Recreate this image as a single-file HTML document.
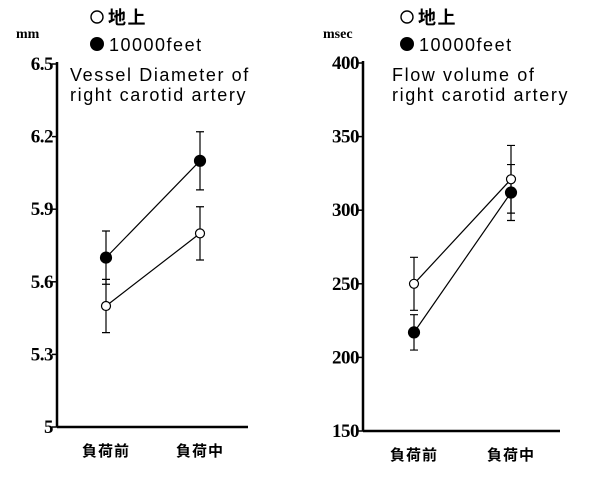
<!DOCTYPE html>
<html><head><meta charset="utf-8"><style>
body{margin:0;background:#fff;}
svg text{fill:#000}
.tk{font-family:"Liberation Serif",serif;font-weight:bold;font-size:19px;text-anchor:end;letter-spacing:-0.5px}
.ti{font-family:"Liberation Sans",sans-serif;font-size:18px;letter-spacing:1.6px}
.lg{font-family:"Liberation Sans","Noto Sans CJK JP",sans-serif;font-size:18px;letter-spacing:1.5px}
.cat{font-family:"Liberation Sans","Noto Sans CJK JP",sans-serif;font-weight:bold;font-size:15px;letter-spacing:1px;text-anchor:middle}
</style></head><body>
<svg id="s" width="600" height="475"></svg>
<script>
const categories=["負荷前","負荷中"];
const leftGround=[5.5,5.8];
const leftGroundErr=[0.11,0.11];
const leftHigh=[5.7,6.1];
const leftHighErr=[0.11,0.12];
const leftTicks=["6.5","6.2","5.9","5.6","5.3","5"];
const leftTickVals=[6.5,6.2,5.9,5.6,5.3,5];
const rightGround=[250,321];
const rightGroundErr=[18,23];
const rightHigh=[217,312];
const rightHighErr=[12,19];
const rightTicks=["400","350","300","250","200","150"];
const rightTickVals=[400,350,300,250,200,150];
const NS="http://www.w3.org/2000/svg";
const svg=document.getElementById('s');
function mk(t,a,txt){const e=document.createElementNS(NS,t);for(const k in a)e.setAttribute(k,a[k]);if(txt!==undefined)e.textContent=txt;svg.appendChild(e);return e;}
function panel(p){
  const y=v=>p.y0+(p.max-v)/(p.max-p.min)*(p.y1-p.y0);
  const x=i=>p.xs[i];
  let e=mk('line',{x1:p.ax,y1:p.y0-2,x2:p.ax,y2:p.y1,stroke:'#000','stroke-width':2.5});
  
  e=mk('line',{x1:p.ax,y1:p.y1,x2:p.xe,y2:p.y1,stroke:'#000','stroke-width':2.5});
  
  p.tv.forEach((v,i)=>{
    e=mk('line',{x1:p.ax-5,y1:y(v),x2:p.ax,y2:y(v),stroke:'#000','stroke-width':1.5});
    
    e=mk('text',{x:p.ax-4,y:y(v)+6,class:'tk'},p.tl[i]);
    
  });
  categories.forEach((c,i)=>{
    e=mk('text',{x:x(i),y:p.y1+29,class:'cat'},c);
    
  });
  e=mk('text',{x:p.ux,y:38,style:'font-family:Liberation Serif,serif;font-weight:bold;font-size:14px'},p.unit);
  
  p.title.forEach((t,i)=>{
    e=mk('text',{x:p.tx,y:81+i*20,class:'ti'},t);
    
  });
  e=mk('circle',{cx:p.lx,cy:17,r:6,fill:'#fff',stroke:'#000','stroke-width':1.4});
  
  e=mk('text',{x:p.lx+11,y:24,class:'lg',style:'font-weight:bold'},'地上');
  
  e=mk('circle',{cx:p.lx,cy:44,r:7,fill:'#000'});
  
  e=mk('text',{x:p.lx+12,y:51,class:'lg'},'10000feet');
  
  [[p.g,p.ge,false],[p.h,p.he,true]].forEach(([vals,errs,fill])=>{
    const nm=fill?'high':'ground';
    e=mk('polyline',{points:vals.map((v,i)=>x(i)+','+y(v)).join(' '),fill:'none',stroke:'#000','stroke-width':1.2});
    
    vals.forEach((v,i)=>{
      const t=y(v+errs[i]),b=y(v-errs[i]);
      e=mk('path',{d:`M${x(i)},${t}V${b}M${x(i)-4},${t}H${x(i)+4}M${x(i)-4},${b}H${x(i)+4}`,stroke:'#000','stroke-width':1.2,fill:'none'});
      
    });
  });
  [[p.g,false],[p.h,true]].forEach(([vals,fill])=>{
    const nm=fill?'high':'ground';
    vals.forEach((v,i)=>{
      e=mk('circle',{cx:x(i),cy:y(v),r:fill?5.5:4.5,fill:fill?'#000':'#fff',stroke:'#000','stroke-width':1.2});
      
    });
  });
}
panel({id:'diameter',ax:57,xe:248,y0:64,y1:427,min:5,max:6.5,xs:[106,200],tv:leftTickVals,tl:leftTicks,
 g:leftGround,ge:leftGroundErr,h:leftHigh,he:leftHighErr,unit:'mm',ux:16,lx:97,tx:70,
 title:['Vessel Diameter of','right carotid artery']});
panel({id:'flow',ax:363,xe:560,y0:63,y1:431,min:150,max:400,xs:[414,511],tv:rightTickVals,tl:rightTicks,
 g:rightGround,ge:rightGroundErr,h:rightHigh,he:rightHighErr,unit:'msec',ux:323,lx:407,tx:392,
 title:['Flow volume of','right carotid artery']});
</script>
</body></html>
